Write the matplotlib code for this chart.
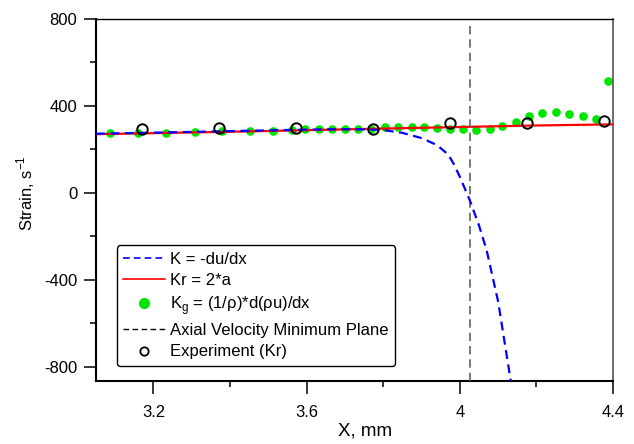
import numpy as np
import matplotlib
matplotlib.use("Agg")
import matplotlib.pyplot as plt
from matplotlib.lines import Line2D
from matplotlib.ticker import FixedLocator, FormatStrFormatter

plt.rcParams['font.family'] = ['Liberation Sans', 'DejaVu Sans']
plt.rcParams['mathtext.fontset'] = 'custom'
plt.rcParams['mathtext.rm'] = 'Liberation Sans'
plt.rcParams['axes.unicode_minus'] = False

# K = -du/dx (blue dashed)
k_x = [3.05, 3.2, 3.4, 3.6, 3.7, 3.75, 3.8, 3.85, 3.9, 3.94, 3.97, 3.985, 4.0, 4.026, 4.05, 4.07, 4.1, 4.133]
k_y = [272, 277, 284, 291, 293, 292, 289, 276, 252, 220, 176, 130, 74, -34, -150, -264, -500, -866]

# Kr = 2*a (red)
kr_x = [3.05, 3.4, 3.7, 4.0, 4.2, 4.4]
kr_y = [270, 281, 292, 303, 310, 315]

# Kg = (1/rho)*d(rho u)/dx (green dots)
kg_x = [3.087, 3.161, 3.234, 3.308, 3.379, 3.453, 3.512, 3.561, 3.596, 3.631, 3.665,
        3.700, 3.734, 3.769, 3.804, 3.839, 3.874, 3.906, 3.940, 3.974, 4.008, 4.043,
        4.078, 4.111, 4.146, 4.180, 4.215, 4.250, 4.285, 4.321, 4.356, 4.386]
kg_y = [274, 274, 277, 281, 285, 286, 284, 289, 292, 294, 294,
        294, 294, 294, 302, 305, 302, 302, 297, 292, 292, 289,
        294, 308, 328, 354, 369, 374, 363, 354, 340, 515]

# axial velocity minimum plane
plane_x = 4.026

# experiment (Kr)
exp_x = [3.17, 3.37, 3.572, 3.773, 3.975, 4.175, 4.376]
exp_y = [292, 300, 300, 295, 320, 323, 331]

fig = plt.figure(figsize=(6.34, 4.44), dpi=100)
ax = fig.add_axes([0.1514, 0.1419, 0.8155, 0.8153])

ax.plot(kg_x, kg_y, 'o', color='#00e400', ms=6.2, mec='none', zorder=2)
ax.plot(kr_x, kr_y, '-', color='#ff0000', lw=1.6, zorder=3)
ax.plot(k_x, k_y, '--', color='#0000ff', lw=1.6, dashes=(4, 2.5), zorder=4)
ax.plot([plane_x, plane_x], [-866, 770], '--', color='#606060', lw=1.2, dashes=(5, 3), zorder=3)
ax.plot(exp_x, exp_y, 'o', mfc='none', mec='black', mew=1.4, ms=7.5, zorder=5)

ax.set_xlim(3.05, 4.4)
ax.set_ylim(-866, 800)

ax.xaxis.set_major_locator(FixedLocator([3.2, 3.6, 4.0, 4.4]))
ax.xaxis.set_minor_locator(FixedLocator([3.4, 3.8, 4.2]))
ax.xaxis.set_major_formatter(FormatStrFormatter('%g'))
ax.yaxis.set_major_locator(FixedLocator([-800, -400, 0, 400, 800]))
ax.yaxis.set_minor_locator(FixedLocator([-600, -200, 200, 600]))

ax.tick_params(which='major', length=9, width=1.1, labelsize=12)
ax.tick_params(axis='y', which='major', pad=4.5)
ax.tick_params(axis='x', which='major', pad=8)
ax.tick_params(which='minor', length=4.5, width=1.1)
ax.tick_params(top=False, right=False, which='both')

for s in ['left', 'bottom']:
    ax.spines[s].set_linewidth(1.5)
ax.spines['top'].set_linewidth(1.0)
ax.spines['right'].set_linewidth(1.2)
ax.spines['right'].set_color('#555555')

ax.set_xlabel('X, mm', fontsize=13.5)
ax.xaxis.set_label_coords(0.52, -0.115)
ax.set_ylabel('Strain, s$^{\\mathregular{-1}}$', fontsize=12)
ax.yaxis.set_label_coords(-0.114, 0.52)

handles = [
    Line2D([], [], color='#0000ff', ls='--', lw=1.2, dashes=(4, 2.5)),
    Line2D([], [], color='#ff0000', lw=1.2),
    Line2D([], [], ls='none', marker='o', color='#00e400', mec='none', ms=8),
    Line2D([], [], color='black', ls='--', lw=1.0, dashes=(4, 2.5)),
    Line2D([], [], ls='none', marker='o', mfc='none', mec='black', mew=1.3, ms=6),
]
labels = ['K = -du/dx', 'Kr = 2*a', 'K$_\\mathregular{g}$ = (1/\u03c1)*d(\u03c1u)/dx',
          'Axial Velocity Minimum Plane', 'Experiment (Kr)']
leg = ax.legend(handles, labels, loc='lower left', bbox_to_anchor=(0.04, 0.041),
                borderaxespad=0, fontsize=12, frameon=True, fancybox=True,
                handlelength=2.5, handletextpad=0.3, labelspacing=0.37,
                borderpad=0.4)
leg.get_frame().set_edgecolor('black')
leg.get_frame().set_linewidth(1.0)
leg.get_frame().set_alpha(1)

fig.savefig('out.png', dpi=100)
